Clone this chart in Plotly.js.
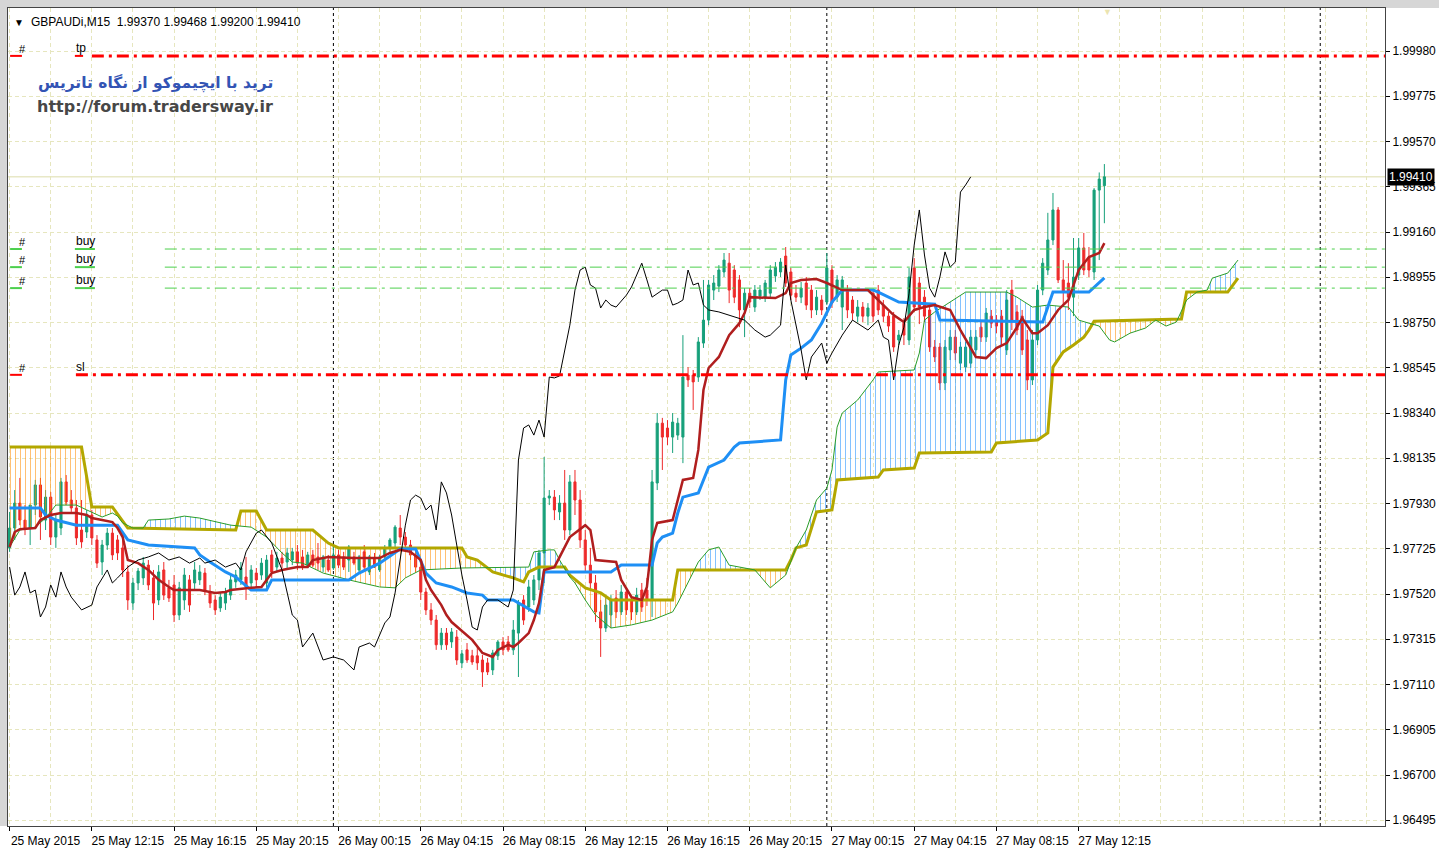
<!DOCTYPE html>
<html>
<head>
<meta charset="utf-8">
<script src="https://cdn.plot.ly/plotly-3.0.1.min.js"></script>
<style>
html,body{margin:0;padding:0;background:#fff;}
#chart{width:1439px;height:848px;}
</style>
</head>
<body>
<div id="chart"></div>
<script>
// ---------------- DATA (GBPAUDi, M15) ----------------
const symbolTitle = "GBPAUDi,M15\u00a0\u00a01.99370 1.99468 1.99200 1.99410";
const lastPrice = 1.99410;

const tickIdx = [0,16,32,48,64,80,96,112,128,144,160,176,192,208];
const tickLabels = ["25 May 2015","25 May 12:15","25 May 16:15","25 May 20:15","26 May 00:15","26 May 04:15","26 May 08:15","26 May 12:15","26 May 16:15","26 May 20:15","27 May 00:15","27 May 04:15","27 May 08:15","27 May 12:15"];
const priceTicks = [1.96495,1.96700,1.96905,1.97110,1.97315,1.97520,1.97725,1.97930,1.98135,1.98340,1.98545,1.98750,1.98955,1.99160,1.99365,1.99570,1.99775,1.99980];
const daySeparators = [63,159,255];

const levelNames  = ["tp","buy","buy","buy","sl"];
const levelPrices = [1.99958,1.99083,1.99001,1.98906,1.98513];

const open = [
1.97729,1.97819,1.97932,1.97855,1.97819,1.97923,1.98014,1.97855,1.97959,1.97778,
1.97819,1.98028,1.97946,1.97910,1.97810,1.97801,1.97878,1.97765,1.97665,1.97742,
1.97796,1.97765,1.97729,1.97620,1.97479,1.97570,1.97593,1.97651,1.97593,1.97493,
1.97629,1.97548,1.97561,1.97425,1.97493,1.97584,1.97570,1.97584,1.97615,1.97529,
1.97493,1.97457,1.97479,1.97515,1.97575,1.97584,1.97597,1.97570,1.97615,1.97606,
1.97570,1.97697,1.97642,1.97683,1.97665,1.97674,1.97711,1.97688,1.97651,1.97697,
1.97688,1.97642,1.97674,1.97638,1.97697,1.97688,1.97674,1.97688,1.97629,1.97711,
1.97620,1.97683,1.97629,1.97688,1.97729,1.97751,1.97819,1.97778,1.97742,1.97697,
1.97642,1.97529,1.97448,1.97402,1.97290,1.97343,1.97303,1.97325,1.97208,1.97267,
1.97240,1.97240,1.97221,1.97208,1.97176,1.97240,1.97303,1.97303,1.97267,1.97343,
1.97493,1.97461,1.97493,1.97584,1.97706,1.97955,1.97959,1.97892,1.97932,1.97810,
1.98028,1.97946,1.97765,1.97651,1.97570,1.97439,1.97366,1.97425,1.97502,1.97439,
1.97529,1.97493,1.97439,1.97538,1.97538,1.97493,1.98023,1.98294,1.98272,1.98231,
1.98240,1.98231,1.98512,1.98512,1.98503,1.98657,1.98761,1.98897,1.98915,1.98979,
1.99019,1.98988,1.98943,1.98807,1.98883,1.98820,1.98870,1.98861,1.98883,1.98961,
1.98979,1.99051,1.98979,1.98883,1.98865,1.98929,1.98897,1.98807,1.98852,1.98843,
1.98988,1.98865,1.98820,1.98897,1.98852,1.98779,1.98820,1.98779,1.98883,1.98897,
1.98829,1.98779,1.98779,1.98671,1.98747,1.98671,1.98997,1.98929,1.98865,1.98807,
1.98639,1.98639,1.98476,1.98626,1.98684,1.98566,1.98548,1.98566,1.98626,1.98729,
1.98684,1.98779,1.98761,1.98779,1.98626,1.98897,1.98798,1.98779,1.98671,1.98490,
1.98671,1.98897,1.98988,1.99124,1.99260,1.98943,1.98929,1.98865,1.98965,1.99088,
1.99042,1.98979,1.99350,1.99370];
const high = [
1.97892,1.97991,1.98046,1.97923,1.97901,1.98037,1.98046,1.97991,1.97982,1.97878,
1.98046,1.98059,1.97991,1.97946,1.97946,1.97901,1.97901,1.97787,1.97765,1.97819,
1.97819,1.97787,1.97765,1.97651,1.97593,1.97638,1.97688,1.97674,1.97629,1.97651,
1.97665,1.97584,1.97606,1.97575,1.97638,1.97606,1.97665,1.97651,1.97638,1.97561,
1.97515,1.97529,1.97548,1.97606,1.97629,1.97665,1.97688,1.97651,1.97638,1.97683,
1.97697,1.97720,1.97711,1.97711,1.97729,1.97729,1.97742,1.97720,1.97711,1.97720,
1.97751,1.97697,1.97697,1.97742,1.97720,1.97711,1.97742,1.97711,1.97697,1.97742,
1.97697,1.97706,1.97697,1.97742,1.97774,1.97832,1.97878,1.97801,1.97765,1.97720,
1.97665,1.97548,1.97479,1.97425,1.97366,1.97366,1.97366,1.97357,1.97267,1.97298,
1.97267,1.97280,1.97244,1.97230,1.97267,1.97312,1.97325,1.97330,1.97402,1.97493,
1.97515,1.97584,1.97606,1.97720,1.98141,1.97991,1.97991,1.97968,1.98082,1.98059,
1.98082,1.97991,1.97810,1.97729,1.97606,1.97493,1.97506,1.97515,1.97538,1.97561,
1.97548,1.97502,1.97548,1.97570,1.97593,1.98082,1.98340,1.98318,1.98308,1.98340,
1.98318,1.98693,1.98548,1.98535,1.98684,1.98943,1.98943,1.98965,1.99010,1.99065,
1.99065,1.99010,1.98965,1.98906,1.98906,1.98920,1.98920,1.98943,1.99010,1.99024,
1.99042,1.99092,1.98997,1.98920,1.98934,1.98956,1.98920,1.98897,1.98874,1.99065,
1.99010,1.98965,1.98961,1.98920,1.98870,1.98852,1.98843,1.98838,1.98897,1.98920,
1.98852,1.98798,1.98798,1.98716,1.98770,1.98997,1.99042,1.98956,1.98897,1.98829,
1.98671,1.98657,1.98671,1.98716,1.98716,1.98662,1.98662,1.98716,1.98716,1.98752,
1.98816,1.98807,1.98784,1.98807,1.98897,1.98943,1.98829,1.98807,1.98716,1.98716,
1.98920,1.99042,1.99247,1.99337,1.99273,1.99033,1.99019,1.99133,1.99133,1.99156,
1.99092,1.99359,1.99430,1.99468];
const low = [
1.97711,1.97765,1.97832,1.97787,1.97742,1.97878,1.97765,1.97810,1.97742,1.97729,
1.97787,1.97923,1.97892,1.97742,1.97729,1.97774,1.97742,1.97638,1.97606,1.97720,
1.97674,1.97674,1.97597,1.97448,1.97448,1.97538,1.97561,1.97538,1.97402,1.97470,
1.97493,1.97484,1.97393,1.97402,1.97448,1.97439,1.97538,1.97561,1.97515,1.97457,
1.97425,1.97439,1.97448,1.97493,1.97548,1.97561,1.97493,1.97538,1.97548,1.97584,
1.97548,1.97593,1.97620,1.97638,1.97638,1.97651,1.97629,1.97629,1.97638,1.97642,
1.97629,1.97620,1.97620,1.97629,1.97638,1.97629,1.97620,1.97651,1.97620,1.97629,
1.97606,1.97638,1.97620,1.97674,1.97711,1.97729,1.97742,1.97720,1.97674,1.97620,
1.97493,1.97425,1.97380,1.97267,1.97267,1.97267,1.97276,1.97199,1.97185,1.97208,
1.97199,1.97176,1.97099,1.97153,1.97153,1.97221,1.97244,1.97258,1.97244,1.97144,
1.97380,1.97439,1.97470,1.97538,1.97570,1.97923,1.97855,1.97855,1.97765,1.97787,
1.97878,1.97729,1.97620,1.97538,1.97393,1.97235,1.97348,1.97366,1.97411,1.97425,
1.97425,1.97402,1.97425,1.97439,1.97466,1.97416,1.97991,1.98082,1.98195,1.98159,
1.98218,1.98113,1.98458,1.98354,1.98481,1.98635,1.98738,1.98852,1.98888,1.98956,
1.98838,1.98838,1.98729,1.98684,1.98816,1.98798,1.98852,1.98843,1.98861,1.98934,
1.98956,1.98911,1.98852,1.98843,1.98838,1.98807,1.98770,1.98784,1.98784,1.98829,
1.98816,1.98843,1.98716,1.98770,1.98761,1.98752,1.98752,1.98738,1.98752,1.98784,
1.98752,1.98707,1.98617,1.98648,1.98648,1.98648,1.98798,1.98743,1.98752,1.98617,
1.98571,1.98444,1.98444,1.98580,1.98580,1.98535,1.98526,1.98544,1.98603,1.98662,
1.98662,1.98725,1.98702,1.98648,1.98603,1.98716,1.98693,1.98603,1.98444,1.98467,
1.98648,1.98874,1.98965,1.99101,1.98929,1.98825,1.98807,1.98779,1.98943,1.98965,
1.98956,1.98943,1.99033,1.99200];
const close = [
1.97819,1.97932,1.97855,1.97819,1.97923,1.98014,1.97869,1.97959,1.97778,1.97855,
1.98028,1.97937,1.97910,1.97774,1.97756,1.97878,1.97774,1.97660,1.97742,1.97796,
1.97697,1.97706,1.97629,1.97493,1.97570,1.97624,1.97660,1.97561,1.97479,1.97620,
1.97515,1.97502,1.97425,1.97548,1.97606,1.97470,1.97629,1.97620,1.97538,1.97479,
1.97448,1.97506,1.97529,1.97584,1.97606,1.97638,1.97552,1.97629,1.97584,1.97660,
1.97674,1.97620,1.97683,1.97660,1.97706,1.97711,1.97660,1.97642,1.97697,1.97651,
1.97660,1.97688,1.97629,1.97697,1.97651,1.97642,1.97733,1.97660,1.97688,1.97642,
1.97688,1.97642,1.97688,1.97729,1.97765,1.97823,1.97778,1.97742,1.97697,1.97642,
1.97529,1.97448,1.97402,1.97290,1.97343,1.97290,1.97348,1.97221,1.97249,1.97221,
1.97212,1.97208,1.97167,1.97167,1.97253,1.97303,1.97267,1.97267,1.97357,1.97479,
1.97402,1.97552,1.97584,1.97706,1.97955,1.97964,1.97901,1.97932,1.97810,1.98028,
1.97946,1.97765,1.97651,1.97570,1.97439,1.97366,1.97470,1.97493,1.97439,1.97529,
1.97448,1.97439,1.97515,1.97461,1.97493,1.98028,1.98294,1.98231,1.98231,1.98299,
1.98294,1.98503,1.98490,1.98481,1.98662,1.98761,1.98920,1.98929,1.98988,1.99033,
1.98897,1.98865,1.98807,1.98883,1.98843,1.98897,1.98897,1.98929,1.98988,1.99001,
1.99024,1.98929,1.98874,1.98865,1.98906,1.98829,1.98807,1.98865,1.98807,1.98997,
1.98838,1.98943,1.98943,1.98807,1.98793,1.98820,1.98779,1.98816,1.98779,1.98807,
1.98779,1.98734,1.98639,1.98693,1.98693,1.98956,1.98820,1.98820,1.98779,1.98639,
1.98594,1.98476,1.98639,1.98684,1.98612,1.98639,1.98639,1.98684,1.98684,1.98684,
1.98793,1.98747,1.98734,1.98684,1.98852,1.98761,1.98716,1.98626,1.98490,1.98671,
1.98897,1.99019,1.99124,1.99260,1.98943,1.98888,1.98865,1.98956,1.99088,1.98988,
1.98988,1.99350,1.99400,1.99410];

// Ichimoku lines (bar index, price)
const tenkanX = [0,1,2,5,6,8,10,13,15,16,18,20,21,22,23,25,27,29,31,32,37,40,42,43,47,49,51,53,56,58,59,62,67,72,74,76,78,80,81,82,84,85,86,89,90,92,94,95,97,98,99,101,102,103,104,106,109,112,113,114,118,119,121,123,124,125,126,129,131,133,134,135,136,138,140,142,143,144,149,151,152,154,157,159,162,167,169,172,174,176,178,180,183,185,188,190,192,194,196,197,199,200,202,204,206,208,210,212,213];
const tenkanY = [1.97733,1.97801,1.97814,1.97819,1.97855,1.97878,1.97887,1.97887,1.97878,1.97864,
1.97855,1.97846,1.97819,1.97778,1.97674,1.97660,1.97629,1.97584,1.97552,1.97538,
1.97538,1.97525,1.97529,1.97538,1.97548,1.97552,1.97615,1.97629,1.97642,1.97642,
1.97674,1.97688,1.97683,1.97683,1.97706,1.97720,1.97711,1.97674,1.97584,1.97538,
1.97470,1.97425,1.97393,1.97334,1.97312,1.97253,1.97235,1.97267,1.97290,1.97280,
1.97298,1.97343,1.97402,1.97479,1.97629,1.97642,1.97778,1.97832,1.97810,1.97674,
1.97665,1.97584,1.97506,1.97493,1.97552,1.97765,1.97842,1.97855,1.98037,1.98046,
1.98173,1.98444,1.98544,1.98594,1.98693,1.98747,1.98793,1.98865,1.98861,1.98883,
1.98929,1.98943,1.98947,1.98929,1.98897,1.98897,1.98852,1.98784,1.98752,1.98807,
1.98820,1.98829,1.98807,1.98716,1.98594,1.98589,1.98634,1.98657,1.98729,1.98770,
1.98702,1.98702,1.98738,1.98807,1.98852,1.98988,1.99047,1.99065,1.99110];

const kijunX = [0,6,7,9,13,21,23,27,36,37,39,42,44,47,50,51,66,68,72,75,76,79,81,83,86,89,92,93,98,102,103,104,117,119,125,126,127,129,130,131,134,136,139,141,142,150,151,152,154,156,158,160,162,168,169,173,180,181,201,202,203,210,213];
const kijunY = [1.97910,1.97910,1.97878,1.97855,1.97832,1.97832,1.97765,1.97742,1.97729,1.97697,
1.97665,1.97620,1.97597,1.97538,1.97538,1.97584,1.97584,1.97615,1.97660,1.97706,
1.97724,1.97724,1.97615,1.97570,1.97552,1.97525,1.97515,1.97493,1.97493,1.97439,
1.97434,1.97620,1.97620,1.97651,1.97651,1.97751,1.97778,1.97796,1.97887,1.97959,
1.97978,1.98095,1.98127,1.98186,1.98204,1.98218,1.98490,1.98603,1.98634,1.98671,
1.98747,1.98843,1.98897,1.98897,1.98888,1.98843,1.98833,1.98761,1.98752,1.98820,
1.98888,1.98888,1.98952];

const senkouAX = [0,1,2,5,7,9,13,15,18,20,21,22,24,26,27,31,34,37,43,47,50,53,55,57,61,66,72,75,77,80,88,101,102,105,106,107,109,110,112,114,117,121,125,129,130,134,136,138,140,145,148,151,153,155,157,159,160,161,162,165,168,169,176,177,178,180,182,186,194,196,199,202,206,208,210,212,214,215,218,221,223,225,227,229,231,233,234,237,239];
const senkouAY = [1.97733,1.97774,1.97810,1.97823,1.97864,1.97923,1.97923,1.97901,1.97869,1.97887,
1.97873,1.97842,1.97819,1.97819,1.97855,1.97860,1.97873,1.97864,1.97832,1.97823,
1.97778,1.97706,1.97665,1.97660,1.97615,1.97584,1.97552,1.97548,1.97593,1.97629,
1.97638,1.97642,1.97711,1.97720,1.97720,1.97674,1.97597,1.97570,1.97493,1.97425,
1.97366,1.97380,1.97402,1.97439,1.97479,1.97665,1.97720,1.97733,1.97651,1.97629,
1.97548,1.97606,1.97729,1.97810,1.97946,1.98000,1.98082,1.98276,1.98340,1.98399,
1.98490,1.98526,1.98535,1.98612,1.98761,1.98798,1.98829,1.98888,1.98888,1.98865,
1.98820,1.98829,1.98820,1.98761,1.98747,1.98734,1.98671,1.98662,1.98702,1.98725,
1.98761,1.98734,1.98752,1.98852,1.98888,1.98897,1.98951,1.98974,1.99033];

const senkouBX = [0,14,16,20,23,44,45,48,50,59,62,64,88,89,91,94,98,100,101,103,108,109,112,115,117,129,130,151,152,153,155,157,160,161,169,170,176,177,191,192,200,202,203,205,207,209,210,211,228,229,237,239];
const senkouBY = [1.98186,1.98186,1.97914,1.97914,1.97819,1.97810,1.97896,1.97896,1.97810,1.97810,
1.97751,1.97729,1.97729,1.97688,1.97674,1.97620,1.97593,1.97575,1.97620,1.97642,
1.97642,1.97606,1.97548,1.97525,1.97493,1.97493,1.97629,1.97629,1.97674,1.97729,
1.97742,1.97892,1.97901,1.98037,1.98050,1.98082,1.98091,1.98159,1.98163,1.98204,
1.98218,1.98250,1.98548,1.98617,1.98648,1.98684,1.98716,1.98756,1.98766,1.98888,
1.98888,1.98951];

const chikouX = [0,1,2,3,4,5,6,7,8,9,10,11,12,14,16,17,19,20,21,23,25,27,29,31,33,35,37,38,40,42,44,45,46,48,49,51,53,55,56,57,59,61,63,65,67,68,70,71,73,74,75,76,77,78,79,80,81,82,83,84,85,86,87,88,89,90,91,92,93,95,97,98,99,100,101,102,103,104,105,106,107,108,109,110,111,112,113,114,115,116,117,118,120,121,123,124,125,127,128,129,130,131,132,133,134,135,136,138,141,143,145,147,148,150,151,152,154,155,156,158,159,160,162,164,167,169,170,171,172,173,174,175,176,177,178,179,180,181,182,183,184,185,186,187];
const chikouY = [1.97642,1.97515,1.97552,1.97620,1.97525,1.97538,1.97416,1.97461,1.97561,1.97506,
1.97620,1.97552,1.97506,1.97448,1.97470,1.97552,1.97629,1.97570,1.97593,1.97642,
1.97674,1.97688,1.97706,1.97674,1.97688,1.97660,1.97683,1.97660,1.97674,1.97642,
1.97660,1.97629,1.97711,1.97796,1.97810,1.97751,1.97629,1.97425,1.97402,1.97280,
1.97343,1.97221,1.97235,1.97221,1.97176,1.97280,1.97298,1.97280,1.97389,1.97416,
1.97525,1.97688,1.97832,1.97946,1.97968,1.97955,1.97901,1.97923,1.97810,1.98028,
1.97978,1.97878,1.97742,1.97606,1.97493,1.97370,1.97357,1.97461,1.97493,1.97493,
1.97461,1.97538,1.98127,1.98272,1.98286,1.98240,1.98308,1.98231,1.98503,1.98499,
1.98508,1.98617,1.98738,1.98897,1.98988,1.99001,1.98920,1.98906,1.98816,1.98852,
1.98829,1.98820,1.98874,1.98911,1.99019,1.98943,1.98865,1.98897,1.98897,1.98829,
1.98838,1.98852,1.98988,1.98920,1.98929,1.98829,1.98807,1.98798,1.98775,1.98761,
1.98716,1.98684,1.98693,1.98738,1.99010,1.98852,1.98626,1.98490,1.98594,1.98657,
1.98566,1.98612,1.98693,1.98761,1.98716,1.98761,1.98684,1.98671,1.98490,1.98648,
1.98729,1.98883,1.99101,1.99260,1.99056,1.98906,1.98865,1.98956,1.99070,1.99001,
1.99024,1.99341,1.99373,1.99410];

// ---------------- STYLE ----------------
const UP = '#17a07a', DN = '#ee2a2a';
const GRID = '#e6e6be';
const PLOT_L = 8, PLOT_R = 1385, PLOT_T = 8, PLOT_B = 826;
const pxX = p => (p - PLOT_L) / (PLOT_R - PLOT_L);
const pxY = p => (PLOT_B - p) / (PLOT_B - PLOT_T);

// ---------------- cloud polygons (geometry only) ----------------
function valAt(X, Y, x) {
  for (let k = 0; k < X.length - 1; k++) {
    if (x >= X[k] && x <= X[k + 1]) {
      const t = X[k + 1] === X[k] ? 0 : (x - X[k]) / (X[k + 1] - X[k]);
      return Y[k] + t * (Y[k + 1] - Y[k]);
    }
  }
  return x < X[0] ? Y[0] : Y[Y.length - 1];
}
function cloudPolys(ax, ay, bx, by) {
  const xs = Array.from(new Set(ax.concat(bx))).sort((p, q) => p - q);
  const A = xs.map(x => valAt(ax, ay, x)), B = xs.map(x => valAt(bx, by, x));
  const polys = []; let cur = null, lastSign = 1;
  const add = (x, a, b, s) => {
    if (!cur || cur.s !== s) { cur = {s, x: [], a: [], b: []}; polys.push(cur); }
    cur.x.push(x); cur.a.push(a); cur.b.push(b);
  };
  for (let k = 0; k < xs.length; k++) {
    const d = A[k] - B[k];
    const s = d > 0 ? 1 : d < 0 ? -1 : lastSign;
    if (k > 0 && s !== lastSign) {
      const d0 = A[k - 1] - B[k - 1];
      const t = d0 / (d0 - d);
      const xc = xs[k - 1] + t * (xs[k] - xs[k - 1]);
      const yc = A[k - 1] + t * (A[k] - A[k - 1]);
      add(xc, yc, yc, lastSign);
      add(xc, yc, yc, s);
    }
    add(xs[k], A[k], B[k], s);
    lastSign = s;
  }
  return polys;
}
function polyTrace(polys, color) {
  const x = [], y = [];
  polys.forEach(p => {
    x.push(...p.x, ...p.x.slice().reverse(), null);
    y.push(...p.a, ...p.b.slice().reverse(), null);
  });
  return {type: 'scatter', mode: 'lines', x, y, fill: 'toself', fillcolor: 'rgba(0,0,0,0)',
    fillpattern: {shape: '|', fgcolor: color, bgcolor: 'rgba(0,0,0,0)', size: 5, solidity: 0.2, fgopacity: 0.55},
    line: {width: 0, color: 'rgba(0,0,0,0)'}, hoverinfo: 'skip'};
}
const lineTrace = (x, y, color, width) => ({type: 'scatter', mode: 'lines', x, y,
  line: {color, width}, hoverinfo: 'skip'});

const polys = cloudPolys(senkouAX, senkouAY, senkouBX, senkouBY);
const traces = [
  polyTrace(polys.filter(p => p.s > 0), '#1e90ff'),
  polyTrace(polys.filter(p => p.s < 0), '#ff8c00'),
  lineTrace(senkouBX, senkouBY, '#b3a700', 3),
  lineTrace(senkouAX, senkouAY, '#2a9d2a', 1),
  {type: 'candlestick', open, high, low, close, whiskerwidth: 0, hoverinfo: 'skip',
   increasing: {line: {color: UP, width: 1}, fillcolor: UP},
   decreasing: {line: {color: DN, width: 1}, fillcolor: DN}},
  lineTrace(kijunX, kijunY, '#1e8ff5', 3),
  lineTrace(tenkanX, tenkanY, '#b01e1e', 2.5),
  lineTrace(chikouX, chikouY, '#000000', 1)
];

// ---------------- shapes & annotations ----------------
const shapes = [];
const annotations = [];
shapes.push({type: 'rect', xref: 'paper', yref: 'paper', x0: pxX(0), x1: pxX(1439), y0: pxY(8), y1: pxY(0),
  fillcolor: '#d6d6d6', line: {width: 0}, layer: 'below'});
shapes.push({type: 'rect', xref: 'paper', yref: 'paper', x0: pxX(0), x1: pxX(7), y0: pxY(826), y1: pxY(0),
  fillcolor: '#d6d6d6', line: {width: 0}, layer: 'below'});
shapes.push({type: 'rect', xref: 'paper', yref: 'paper', x0: pxX(9), x1: pxX(164), y0: pxY(296), y1: pxY(229),
  fillcolor: '#ffffff', line: {width: 0}, layer: 'between'});
daySeparators.forEach(d => shapes.push({type: 'line', xref: 'x', yref: 'paper', x0: d, x1: d, y0: 0, y1: 1,
  line: {color: '#000', width: 1, dash: '3px,3px'}, layer: 'between'}));
shapes.push({type: 'line', xref: 'paper', yref: 'y', x0: 0, x1: 1, y0: lastPrice, y1: lastPrice,
  line: {color: '#dcdcaa', width: 1}, layer: 'between'});
const levelStyle = {tp: {c: '#ff0000', w: 3, start: 16, ul: 14.3},
                    buy: {c: '#4ccf4c', w: 1, start: 30.2, ul: 16.6},
                    sl: {c: '#ff0000', w: 3, start: 12.9, ul: null}};
levelNames.forEach((n, k) => {
  const st = levelStyle[n], p = levelPrices[k];
  shapes.push({type: 'line', xref: 'x', yref: 'y', x0: st.start, x1: 300, y0: p, y1: p,
    line: {color: st.c, width: st.w, dash: '12px,5px,3px,5px'}, layer: 'above'});
  shapes.push({type: 'line', xref: 'x', yref: 'y', x0: 0.1, x1: 2.4, y0: p, y1: p,
    line: {color: st.c, width: 2}, layer: 'above'});
  if (st.ul) shapes.push({type: 'line', xref: 'x', yref: 'y', x0: 12.7, x1: st.ul, y0: p, y1: p,
    line: {color: st.c, width: 2}, layer: 'above'});
  annotations.push({xref: 'x', yref: 'y', x: 1.4, y: p, text: '#', showarrow: false, xanchor: 'left',
    yanchor: 'bottom', yshift: -1, font: {size: 11, color: '#000'}});
  annotations.push({xref: 'x', yref: 'y', x: 12.6, y: p, text: n, showarrow: false, xanchor: 'left',
    yanchor: 'bottom', yshift: -1, font: {size: 12, color: '#000'}});
});
annotations.push({xref: 'paper', yref: 'paper', x: pxX(12), y: pxY(22), text: '\u25BC', showarrow: false,
  xanchor: 'left', yanchor: 'middle', font: {size: 10, color: '#000'}});
annotations.push({xref: 'paper', yref: 'paper', x: pxX(29), y: pxY(22), text: symbolTitle, showarrow: false,
  xanchor: 'left', yanchor: 'middle', font: {size: 12, color: '#000'}});
annotations.push({xref: 'paper', yref: 'paper', x: pxX(155), y: pxY(83), text: '<b>ترید با ایچیموکو از نگاه تاتریس</b>',
  showarrow: false, xanchor: 'center', yanchor: 'middle', font: {family: 'DejaVu Sans', size: 15.5, color: '#3354b4'}});
annotations.push({xref: 'paper', yref: 'paper', x: pxX(155), y: pxY(107), text: '<b>http://forum.tradersway.ir</b>',
  showarrow: false, xanchor: 'center', yanchor: 'middle', font: {family: 'DejaVu Sans', size: 16, color: '#474747'}});
annotations.push({xref: 'paper', yref: 'paper', x: pxX(1107), y: pxY(12), text: '\u25BC', showarrow: false,
  xanchor: 'center', yanchor: 'middle', font: {size: 9, color: '#ebe4b0'}});
annotations.push({xref: 'paper', yref: 'y', x: 1, y: lastPrice, xshift: 2, text: lastPrice.toFixed(5),
  showarrow: false, xanchor: 'left', yanchor: 'middle', bgcolor: '#000', borderpad: 1,
  font: {size: 12, color: '#fff'}});

const layout = {
  width: 1439, height: 848,
  margin: {l: PLOT_L, r: 1439 - PLOT_R, t: PLOT_T, b: 848 - PLOT_B, pad: 0},
  paper_bgcolor: '#ffffff', plot_bgcolor: '#ffffff',
  showlegend: false, boxgap: 0.42,
  font: {family: 'Liberation Sans, Arial, sans-serif', size: 12, color: '#000'},
  xaxis: {range: [-0.31, 267.6], tickmode: 'array', tickvals: tickIdx, ticktext: tickLabels,
    ticks: 'outside', ticklen: 4, tickcolor: '#000', tickangle: 0, ticklabelshift: 36,
    showgrid: true, gridcolor: GRID, griddash: '4px,3px', gridwidth: 1,
    minor: {tickmode: 'linear', tick0: 0, dtick: 8, showgrid: true, gridcolor: GRID, griddash: '4px,3px', ticks: ''},
    showline: true, linecolor: '#444', linewidth: 1, mirror: true, zeroline: false,
    rangeslider: {visible: false}, fixedrange: true, tickfont: {size: 12}},
  yaxis: {side: 'right', range: [1.96469, 2.00175], tickmode: 'array', tickvals: priceTicks, tickformat: '.5f',
    ticks: 'outside', ticklen: 4, tickcolor: '#000', showgrid: true, gridcolor: GRID, griddash: '4px,3px',
    showline: true, linecolor: '#444', linewidth: 1, mirror: true, zeroline: false, fixedrange: true,
    tickfont: {size: 12}},
  shapes, annotations
};

Plotly.newPlot('chart', traces, layout, {staticPlot: true, displayModeBar: false});
</script>
</body>
</html>
